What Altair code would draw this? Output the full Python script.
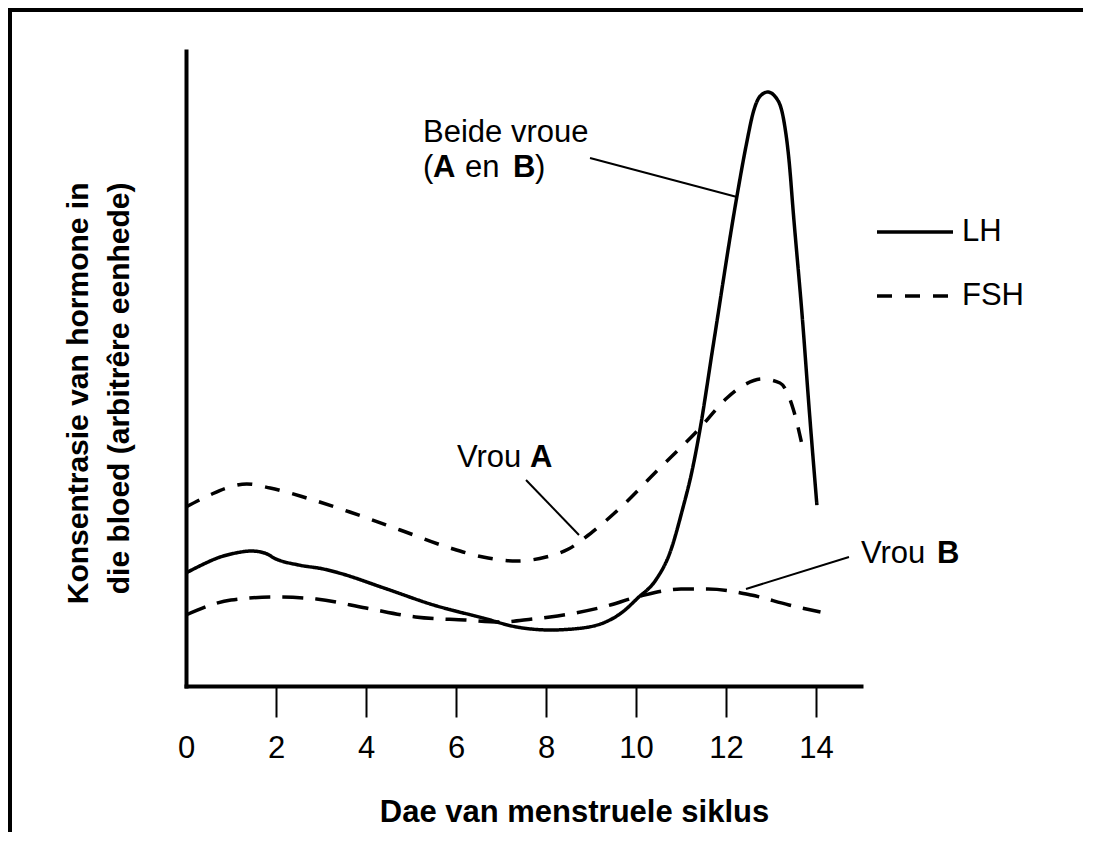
import altair as alt
import pandas as pd

# ---------------- data ----------------
lh_day = [0, 0.35, 0.7, 1.1, 1.45, 1.75, 2.0, 2.5, 3.05, 3.4, 4.4, 5.5, 6.6, 7.35,
          8.1, 8.6, 9.27, 9.7, 10.04, 10.44, 10.76, 11.03, 11.25, 11.42, 11.71,
          12.24, 12.45, 12.62, 12.76, 12.93, 13.1, 13.27, 13.4, 13.5, 13.7, 13.85, 14.02]
lh_value = [17.8, 19.06, 20.16, 20.94, 21.26, 20.94, 20.0, 19.06, 18.43, 17.8, 15.43,
            12.76, 10.71, 9.29, 8.82, 8.98, 9.92, 11.65, 13.86, 16.69, 21.1, 27.72,
            34.02, 40.31, 53.39, 77.01, 85.2, 90.71, 92.91, 93.54, 92.76, 89.61,
            82.83, 74.17, 57.64, 43.46, 28.5]

fsh_a_day = [0, 0.53, 0.9, 1.35, 1.87, 2.68, 3.64, 4.76, 5.87, 6.6, 7.35, 8.0, 8.5,
             9.0, 9.67, 10.44, 11.38, 12.02, 12.4, 12.8, 13.2, 13.5, 13.7]
fsh_a_value = [28.19, 30.08, 31.18, 31.81, 31.18, 29.61, 27.4, 24.57, 21.73, 20.31,
               19.69, 20.31, 21.57, 24.09, 28.19, 33.7, 40.31, 45.35, 47.4, 48.35,
               47.72, 43.46, 37.64]

fsh_b_day = [0, 1.0, 2.0, 2.9, 4.0, 5.1, 6.2, 7.0, 7.7, 8.09, 9.27, 10.1, 11.0, 11.6,
             12.56, 13.4, 14.1]
fsh_b_value = [11.18, 13.54, 14.02, 13.7, 12.28, 10.87, 10.39, 10.08, 10.55, 10.87,
               12.44, 14.17, 15.28, 15.28, 14.33, 12.76, 11.65]

x_ticks = [0, 2, 4, 6, 8, 10, 12, 14]
series_names = ["LH", "FSH (Vrou A)", "FSH (Vrou B)"]

y_title = ["Konsentrasie van hormone in", "die bloed (arbitrêre eenhede)"]
x_title = "Dae van menstruele siklus"

# annotation texts (regular and bold pieces) with their anchor in data units
ann_regular_text = ["Beide vroue", "(", "en", ")", "Vrou", "Vrou"]
ann_regular_day = [5.267, 5.267, 6.2, 7.756, 6.022, 15.0]
ann_regular_value = [85.67, 80.16, 80.16, 80.16, 34.49, 19.37]

ann_bold_text = ["A", "B", "A", "B"]
ann_bold_day = [5.489, 7.267, 7.644, 16.689]
ann_bold_value = [80.16, 80.16, 34.49, 19.37]

leader_day = [8.978, 7.556, 14.733]
leader_value = [83.15, 32.44, 20.31]
leader_day2 = [12.244, 8.733, 12.444]
leader_value2 = [77.01, 23.78, 15.28]

# ---------------- tables ----------------
rows = []
for name, days, vals in [("LH", lh_day, lh_value),
                         ("FSH (Vrou A)", fsh_a_day, fsh_a_value),
                         ("FSH (Vrou B)", fsh_b_day, fsh_b_value)]:
    for d, v in zip(days, vals):
        rows.append({"dag": d, "waarde": v, "reeks": name})
df = pd.DataFrame(rows)

ann_reg = pd.DataFrame({"tekst": ann_regular_text, "dag": ann_regular_day, "waarde": ann_regular_value})
ann_bold = pd.DataFrame({"tekst": ann_bold_text, "dag": ann_bold_day, "waarde": ann_bold_value})
leaders = pd.DataFrame({"dag": leader_day, "waarde": leader_value,
                        "dag2": leader_day2, "waarde2": leader_value2})

FONT = "Liberation Sans"
W, H = 675, 635

x_scale = alt.Scale(domain=[0, 15], nice=False, zero=False)
y_scale = alt.Scale(domain=[0, 100], nice=False, zero=False)

x_axis = alt.Axis(
    values=x_ticks, format="d", grid=False,
    domainColor="black", domainWidth=4, domainCap="square",
    tickColor="black", tickWidth=2, tickSize=31,
    tickOpacity=alt.condition("datum.value == 0", alt.value(0), alt.value(1)),
    labelFont=FONT, labelFontSize=31, labelColor="black", labelPadding=16,
    labelFlush=False, labelOverlap=False,
    title=x_title, titleFont=FONT, titleFontSize=31, titleFontWeight="bold",
    titleColor="black", titleX=388, titleY=111, titleAlign="center",
)
y_axis = alt.Axis(
    ticks=False, labels=False, grid=False,
    domainColor="black", domainWidth=4, domainCap="square",
    title=y_title, titleFont=FONT, titleFontSize=30, titleFontWeight="bold",
    titleColor="black", titleAngle=270, titleAlign="right",
    titleBaseline="alphabetic", titleX=-99, titleY=131, titleLineHeight=41,
)

lines = alt.Chart(df).mark_line(interpolate="monotone", color="black", strokeCap="butt").encode(
    x=alt.X("dag:Q", scale=x_scale, axis=x_axis),
    y=alt.Y("waarde:Q", scale=y_scale, axis=y_axis),
    strokeDash=alt.StrokeDash(
        "reeks:N",
        scale=alt.Scale(domain=series_names, range=[[1, 0], [15, 13], [21, 12]]),
        legend=alt.Legend(
            orient="none", legendX=689, legendY=141, title=None, padding=0,
            values=["LH", "FSH (Vrou A)"],
            labelExpr="datum.label == 'LH' ? 'LH' : 'FSH'",
            symbolType="stroke", symbolSize=5776, symbolStrokeWidth=4,
            symbolStrokeColor="black", labelFont=FONT, labelFontSize=31,
            labelColor="black", labelOffset=7, rowPadding=9,
        ),
    ),
    strokeWidth=alt.StrokeWidth(
        "reeks:N", scale=alt.Scale(domain=series_names, range=[3.5, 3.5, 5.5]), legend=None
    ),
)

leader_rules = alt.Chart(leaders).mark_rule(color="black", strokeWidth=2).encode(
    x=alt.X("dag:Q", scale=x_scale), y=alt.Y("waarde:Q", scale=y_scale),
    x2="dag2:Q", y2="waarde2:Q",
)

text_reg = alt.Chart(ann_reg).mark_text(
    align="left", baseline="alphabetic", font=FONT, fontSize=31, color="black"
).encode(x=alt.X("dag:Q", scale=x_scale), y=alt.Y("waarde:Q", scale=y_scale), text="tekst:N")

text_bold = alt.Chart(ann_bold).mark_text(
    align="left", baseline="alphabetic", font=FONT, fontSize=31, fontWeight="bold", color="black"
).encode(x=alt.X("dag:Q", scale=x_scale), y=alt.Y("waarde:Q", scale=y_scale), text="tekst:N")

frame_df = pd.DataFrame({"k": [0]})
frame_left = alt.Chart(frame_df).mark_rule(color="black", strokeWidth=4, strokeCap="butt").encode(
    x=alt.value(-176), y=alt.value(-43), y2=alt.value(900)
)
frame_top = alt.Chart(frame_df).mark_rule(color="black", strokeWidth=4, strokeCap="butt").encode(
    x=alt.value(-178), x2=alt.value(1000), y=alt.value(-41)
)

chart = alt.layer(lines, leader_rules, text_reg, text_bold, frame_left, frame_top).properties(
    width=W, height=H,
    autosize=alt.AutoSizeParams(type="none"),
    padding={"left": 178, "top": 43, "right": 222, "bottom": 146},
    background="white",
).configure_view(stroke=None)

chart.save("out.html", embed_options={"renderer": "svg", "actions": False})
